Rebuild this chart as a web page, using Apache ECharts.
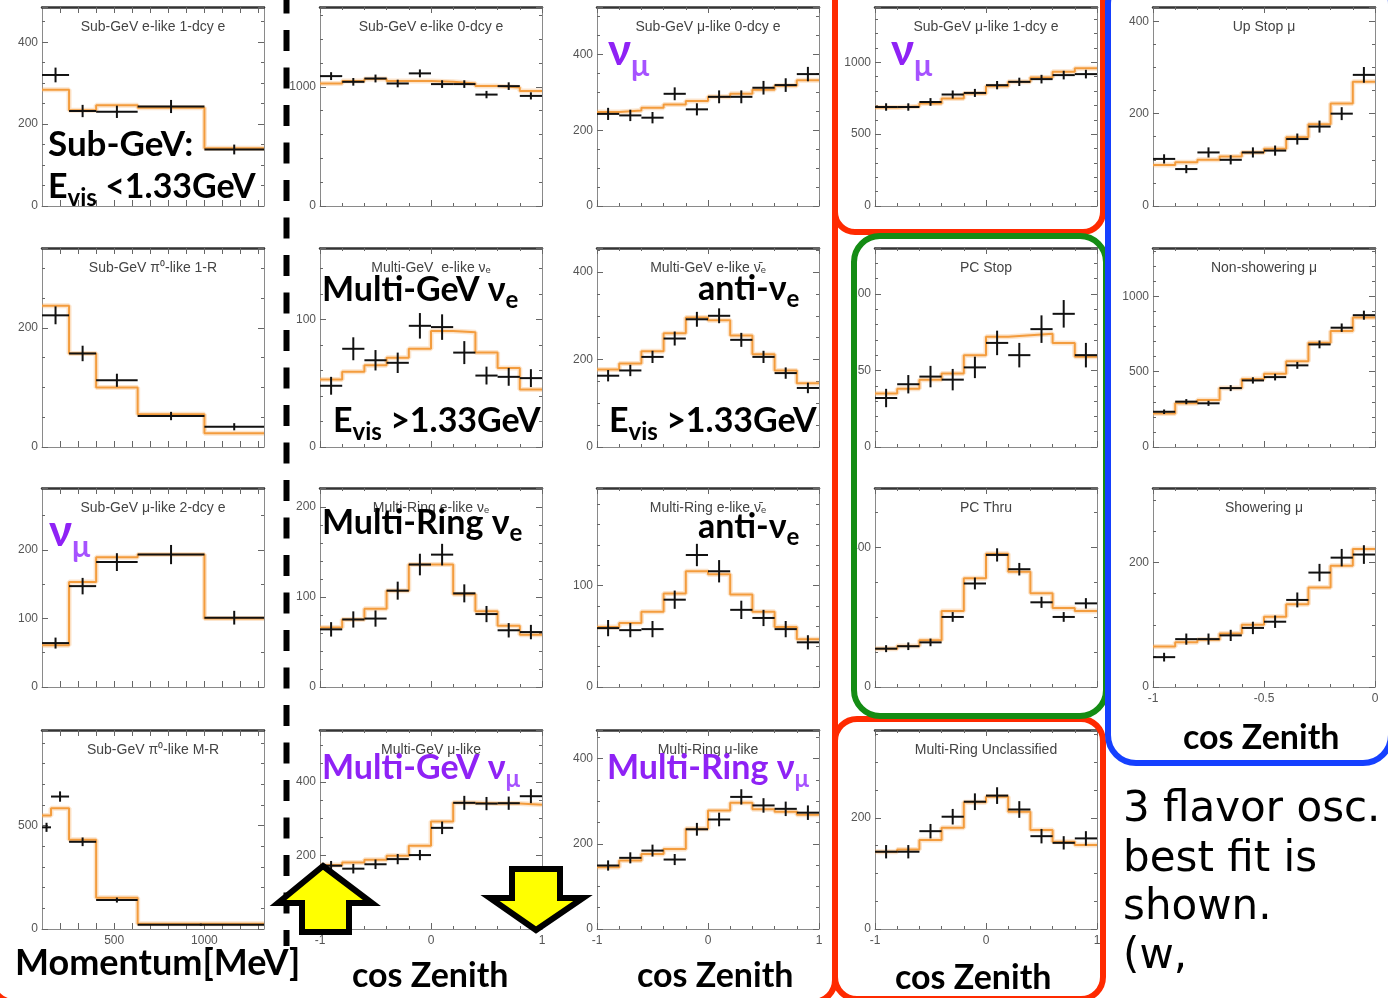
<!DOCTYPE html>
<html>
<head>
<meta charset="utf-8">
<title>Super-K atmospheric neutrino zenith distributions</title>
<script src="https://cdn.jsdelivr.net/npm/echarts@6/dist/echarts.min.js"></script>
<style>
  html, body { margin: 0; padding: 0; background: #fff; }
  #chart { width: 1388px; height: 998px; }
</style>
</head>
<body>
<div id="chart"></div>
<script>
// ---- bin edges ----
const momEdges   = [100, 250, 400, 630, 1000, 1330];
const pi0MREdges = [100, 150, 250, 400, 630, 1330];
const cosEdges   = [-1, -0.8, -0.6, -0.4, -0.2, 0, 0.2, 0.4, 0.6, 0.8, 1];
const upEdges    = [-1, -0.9, -0.8, -0.7, -0.6, -0.5, -0.4, -0.3, -0.2, -0.1, 0];
const momLabels  = [500, 1000];
const momTicks   = [200, 300, 400, 500, 600, 700, 800, 900, 1000, 1100, 1200, 1300];

// ---- event counts (data), statistical errors, best-fit expectation ----
const sgE1dcyData = [320, 232, 230, 243, 138];
const sgE1dcyErr  = [18, 15, 15, 16, 12];
const sgE1dcyFit  = [284, 234, 246, 240, 141];

const sgE0dcyData = [1090, 1042, 1070, 1028, 1113, 1023, 1023, 935, 1006, 924];
const sgE0dcyErr  = [33, 32, 33, 32, 33, 32, 32, 31, 32, 30];
const sgE0dcyFit  = [1028, 1048, 1065, 1048, 1048, 1042, 1028, 1006, 994, 966];

const sgMu0dcyData = [243, 239, 233, 296, 255, 288, 288, 312, 319, 348];
const sgMu0dcyErr  = [16, 15, 15, 17, 16, 17, 17, 18, 18, 19];
const sgMu0dcyFit  = [248, 252, 259, 268, 277, 288, 296, 307, 317, 332];

const sgMu1dcyData = [689, 689, 724, 776, 787, 841, 864, 883, 911, 918];
const sgMu1dcyErr  = [26, 26, 27, 28, 28, 29, 29, 30, 30, 30];
const sgMu1dcyFit  = [685, 694, 713, 748, 783, 834, 864, 895, 935, 958];

const upStopData = [102, 80, 116, 100, 116, 120, 145, 172, 200, 284];
const upStopErr  = [10, 9, 11, 10, 11, 11, 12, 13, 14, 17];
const upStopFit  = [89, 95, 100, 107, 116, 124, 149, 177, 222, 269];

const sgPi1RData = [221, 157, 112, 52, 34];
const sgPi1RErr  = [15, 13, 11, 7, 6];
const sgPi1RFit  = [237, 157, 100, 55, 23];

const mgENueData = [48, 77, 68, 66, 95, 94, 74, 56, 55, 54];
const mgENueErr  = [7, 9, 8, 8, 10, 10, 9, 7, 7, 7];
const mgENueFit  = [53, 59, 64, 70, 77, 91, 90, 74, 62, 45];

const mgENuebarData = [163, 175, 206, 248, 292, 300, 245, 206, 169, 135];
const mgENuebarErr  = [13, 13, 14, 16, 17, 17, 16, 14, 13, 12];
const mgENuebarFit  = [177, 191, 219, 260, 296, 290, 255, 212, 175, 146];

const pcStopData = [32, 41, 46, 44, 52, 68, 60, 77, 87, 60];
const pcStopErr  = [6, 6, 7, 7, 7, 8, 8, 9, 9, 8];
const pcStopFit  = [35, 38, 44, 48, 60, 72, 73, 74, 68, 59];

const upNonShData = [234, 301, 290, 391, 442, 464, 542, 681, 792, 875];
const upNonShErr  = [15, 17, 17, 20, 21, 22, 23, 26, 28, 30];
const upNonShFit  = [223, 290, 312, 391, 451, 487, 569, 692, 770, 859];

const sgMu2dcyData = [64, 147, 182, 193, 101];
const sgMu2dcyErr  = [8, 12, 13, 14, 10];
const sgMu2dcyFit  = [61, 153, 189, 193, 100];

const mrENueData = [64, 75, 76, 107, 136, 147, 104, 81, 63, 61];
const mrENueErr  = [8, 9, 9, 10, 12, 12, 10, 9, 8, 8];
const mrENueFit  = [66, 75, 87, 107, 136, 136, 103, 84, 68, 58];

const mrENuebarData = [58, 56, 57, 86, 130, 114, 76, 68, 57, 44];
const mrENuebarErr  = [8, 7, 8, 9, 11, 11, 9, 8, 8, 7];
const mrENuebarFit  = [59, 63, 74, 92, 114, 111, 91, 74, 59, 47];

const pcThruData = [110, 117, 128, 201, 297, 379, 338, 243, 201, 240];
const pcThruErr  = [10, 11, 11, 14, 17, 19, 18, 16, 14, 15];
const pcThruFit  = [110, 118, 134, 218, 312, 382, 331, 269, 227, 218];

const upShData = [48, 77, 77, 83, 95, 105, 140, 184, 208, 213];
const upShErr  = [7, 9, 9, 9, 10, 10, 12, 14, 14, 15];
const upShFit  = [65, 72, 76, 86, 100, 113, 133, 160, 195, 222];

const sgPiMRData = [492, 641, 422, 140, 21];
const sgPiMRErr  = [22, 25, 21, 12, 5];
const sgPiMRFit  = [549, 584, 432, 151, 26];

const mgMuData = [172, 164, 176, 190, 201, 275, 343, 341, 342, 361];
const mgMuErr  = [13, 13, 13, 14, 14, 17, 19, 18, 18, 19];
const mgMuFit  = [174, 181, 188, 199, 226, 292, 343, 341, 341, 338];

const mrMuData = [149, 167, 184, 163, 234, 257, 310, 290, 282, 273];
const mrMuErr  = [12, 13, 14, 13, 15, 16, 18, 17, 17, 17];
const mrMuFit  = [145, 161, 176, 188, 235, 278, 296, 281, 275, 268];

const mrOtherData = [139, 139, 176, 202, 229, 240, 215, 167, 155, 163];
const mrOtherErr  = [12, 12, 13, 14, 15, 15, 15, 13, 12, 13];
const mrOtherFit  = [139, 143, 160, 182, 228, 238, 211, 178, 157, 151];

// ---- panel layout ----
const COL_X = [42, 320, 597, 875, 1153];
const ROW_Y = [7, 248, 488, 730];
const PW = 222, PH = 199;

const panels = [
  { title: 'Sub-GeV e-like 1-dcy e', col: 0, row: 0, ax: 'mom', edges: momEdges, ymax: 486, ystep: 200, minor: 4, data: sgE1dcyData, err: sgE1dcyErr, fit: sgE1dcyFit },
  { title: 'Sub-GeV e-like 0-dcy e', col: 1, row: 0, ax: 'cos', edges: cosEdges, ymax: 1670, ystep: 1000, minor: 5, data: sgE0dcyData, err: sgE0dcyErr, fit: sgE0dcyFit },
  { title: 'Sub-GeV \u03bc-like 0-dcy e', col: 2, row: 0, ax: 'cos', edges: cosEdges, ymax: 525, ystep: 200, minor: 4, data: sgMu0dcyData, err: sgMu0dcyErr, fit: sgMu0dcyFit },
  { title: 'Sub-GeV \u03bc-like 1-dcy e', col: 3, row: 0, ax: 'cos', edges: cosEdges, ymax: 1385, ystep: 500, minor: 5, data: sgMu1dcyData, err: sgMu1dcyErr, fit: sgMu1dcyFit },
  { title: 'Up Stop \u03bc', col: 4, row: 0, ax: 'up', edges: upEdges, ymax: 431, ystep: 200, minor: 4, data: upStopData, err: upStopErr, fit: upStopFit },

  { title: 'Sub-GeV \u03c0\u2070-like 1-R', col: 0, row: 1, ax: 'mom', edges: momEdges, ymax: 334, ystep: 200, minor: 4, data: sgPi1RData, err: sgPi1RErr, fit: sgPi1RFit },
  { title: 'Multi-GeV  e-like \u03bd\u2091', col: 1, row: 1, ax: 'cos', edges: cosEdges, ymax: 156, ystep: 100, minor: 5, data: mgENueData, err: mgENueErr, fit: mgENueFit },
  { title: 'Multi-GeV e-like \u03bd\u0304\u2091', col: 2, row: 1, ax: 'cos', edges: cosEdges, ymax: 455, ystep: 200, minor: 4, data: mgENuebarData, err: mgENuebarErr, fit: mgENuebarFit },
  { title: 'PC Stop', col: 3, row: 1, ax: 'cos', edges: cosEdges, ymax: 130, ystep: 50, minor: 5, data: pcStopData, err: pcStopErr, fit: pcStopFit },
  { title: 'Non-showering \u03bc', col: 4, row: 1, ax: 'up', edges: upEdges, ymax: 1321, ystep: 500, minor: 5, data: upNonShData, err: upNonShErr, fit: upNonShFit },

  { title: 'Sub-GeV \u03bc-like 2-dcy e', col: 0, row: 2, ax: 'mom', edges: momEdges, ymax: 290, ystep: 100, minor: 2, data: sgMu2dcyData, err: sgMu2dcyErr, fit: sgMu2dcyFit },
  { title: 'Multi-Ring e-like \u03bd\u2091', col: 1, row: 2, ax: 'cos', edges: cosEdges, ymax: 221, ystep: 100, minor: 5, data: mrENueData, err: mrENueErr, fit: mrENueFit },
  { title: 'Multi-Ring e-like \u03bd\u0304\u2091', col: 2, row: 2, ax: 'cos', edges: cosEdges, ymax: 196, ystep: 100, minor: 5, data: mrENuebarData, err: mrENuebarErr, fit: mrENuebarFit },
  { title: 'PC Thru', col: 3, row: 2, ax: 'cos', edges: cosEdges, ymax: 571, ystep: 400, minor: 4, data: pcThruData, err: pcThruErr, fit: pcThruFit },
  { title: 'Showering \u03bc', col: 4, row: 2, ax: 'up', edges: upEdges, ymax: 320, ystep: 200, minor: 4, data: upShData, err: upShErr, fit: upShFit, xLabels: true },

  { title: 'Sub-GeV \u03c0\u2070-like M-R', col: 0, row: 3, ax: 'mom', edges: pi0MREdges, ymax: 963, ystep: 500, minor: 5, data: sgPiMRData, err: sgPiMRErr, fit: sgPiMRFit, xLabels: true },
  { title: 'Multi-GeV \u03bc-like', col: 1, row: 3, ax: 'cos', edges: cosEdges, ymax: 541, ystep: 200, minor: 4, data: mgMuData, err: mgMuErr, fit: mgMuFit, xLabels: true },
  { title: 'Multi-Ring \u03bc-like', col: 2, row: 3, ax: 'cos', edges: cosEdges, ymax: 467, ystep: 200, minor: 4, data: mrMuData, err: mrMuErr, fit: mrMuFit, xLabels: true },
  { title: 'Multi-Ring Unclassified', col: 3, row: 3, ax: 'cos', edges: cosEdges, ymax: 358, ystep: 200, minor: 4, data: mrOtherData, err: mrOtherErr, fit: mrOtherFit, xLabels: true }
];

const AXIS_GRAY = '#8a8a8a';
const TICK_GRAY = '#666';
const LABEL_FONT = '"Liberation Sans", Arial, sans-serif';
const FIT_COLOR = '#f39c3d';
const plainNumber = v => String(v);

function xAxisFor(p, gi, top) {
  const base = {
    type: 'value', gridIndex: gi, position: top ? 'top' : 'bottom',
    axisLine: { show: true, onZero: false, lineStyle: { color: top ? '#333' : AXIS_GRAY, width: top ? 2.5 : 1 } },
    axisTick: { show: true, inside: true, length: 6, lineStyle: { color: TICK_GRAY } },
    minorTick: { show: true, splitNumber: 5, length: 3, lineStyle: { color: TICK_GRAY } },
    splitLine: { show: false },
    axisLabel: { show: !top && !!p.xLabels, color: '#555', fontSize: 12, fontFamily: LABEL_FONT, margin: 6, formatter: plainNumber }
  };
  if (p.ax === 'mom') {
    base.min = 100; base.max = 1330;
    base.axisLabel.customValues = momLabels;
    base.axisTick.customValues = momTicks;
    base.minorTick.show = false;
  } else if (p.ax === 'up') {
    base.min = -1; base.max = 0; base.interval = 0.5;
  } else {
    base.min = -1; base.max = 1; base.interval = 1;
  }
  return base;
}

function yAxisFor(p, gi, right) {
  return {
    type: 'value', gridIndex: gi, position: right ? 'right' : 'left',
    min: 0, max: p.ymax, interval: p.ystep,
    axisLine: { show: true, onZero: false, lineStyle: { color: AXIS_GRAY, width: 1 } },
    axisTick: { show: true, inside: true, length: 6, lineStyle: { color: TICK_GRAY } },
    minorTick: { show: true, splitNumber: p.minor, length: 3, lineStyle: { color: TICK_GRAY } },
    splitLine: { show: false },
    axisLabel: { show: !right, showMaxLabel: false, color: '#555', fontSize: 12, fontFamily: LABEL_FONT, margin: 4, formatter: plainNumber }
  };
}

function crossItem(params, api) {
  const mid = api.value(0), v = api.value(1), lo = api.value(2), hi = api.value(3), e = api.value(4);
  const a = api.coord([lo, v]), b = api.coord([hi, v]);
  const c = api.coord([mid, v - e]), d = api.coord([mid, v + e]);
  const st = { stroke: '#111', lineWidth: 2 };
  return {
    type: 'group',
    children: [
      { type: 'line', shape: { x1: a[0], y1: a[1], x2: b[0], y2: b[1] }, style: st },
      { type: 'line', shape: { x1: c[0], y1: c[1], x2: d[0], y2: d[1] }, style: st }
    ]
  };
}

const grid = [], xAxis = [], yAxis = [], series = [], graphic = [];

panels.forEach((p, i) => {
  const left = COL_X[p.col], top = ROW_Y[p.row];
  grid.push({ left: left, top: top, width: PW, height: PH });
  xAxis.push(xAxisFor(p, i, false), xAxisFor(p, i, true));
  yAxis.push(yAxisFor(p, i, false), yAxisFor(p, i, true));

  const n = p.data.length;
  const steps = p.edges.map((e, k) => [e, p.fit[Math.min(k, n - 1)]]);
  const crosses = p.data.map((v, k) => [(p.edges[k] + p.edges[k + 1]) / 2, v, p.edges[k], p.edges[k + 1], p.err[k]]);

  series.push({
    type: 'line', xAxisIndex: 2 * i, yAxisIndex: 2 * i, data: steps, step: 'end',
    symbol: 'none', silent: true, z: 2,
    lineStyle: { color: 'rgba(246,170,90,0.3)', width: 5 }
  });
  series.push({
    type: 'line', xAxisIndex: 2 * i, yAxisIndex: 2 * i, data: steps, step: 'end',
    symbol: 'none', silent: true, z: 3,
    lineStyle: { color: FIT_COLOR, width: 2 }
  });
  series.push({
    type: 'custom', xAxisIndex: 2 * i, yAxisIndex: 2 * i, data: crosses,
    renderItem: crossItem, silent: true, z: 4,
    encode: { x: 0, y: 1 }
  });

  graphic.push({
    type: 'text', x: left + PW / 2, y: top + 20, z: 50,
    style: { text: p.title, font: '14px ' + LABEL_FONT, fill: '#444', textAlign: 'center', textVerticalAlign: 'middle' }
  });
});

// ---- overlay annotations ----
const BOLD = 'Lato, "Noto Sans", sans-serif';
const PURPLE = '#8f22f5';
const PURPLE_SUB = '#a652ff';
const measure = document.createElement('canvas').getContext('2d');

// lays out a run of text pieces on a shared baseline (subscripts via dy)
function textRun(x, baseline, parts) {
  let cx = x;
  parts.forEach(p => {
    const font = (p.w || 'bold') + ' ' + p.s + 'px ' + (p.f || BOLD);
    measure.font = font;
    const width = measure.measureText(p.t).width;
    graphic.push({
      type: 'text', x: cx, y: baseline + (p.dy || 0) - 0.36 * p.s, z: 120,
      style: { text: p.t, font: font, fill: p.c || '#000', textAlign: 'left', textVerticalAlign: 'middle' }
    });
    cx += width;
  });
}

function roundBox(x, y, w, h, r, color, lw) {
  graphic.push({
    type: 'rect', z: 110, silent: true,
    shape: { x: x, y: y, width: w, height: h, r: r },
    style: { fill: 'none', stroke: color, lineWidth: lw }
  });
}

// separator between momentum and zenith panels
graphic.push({
  type: 'line', z: 110, silent: true,
  shape: { x1: 286.5, y1: -7.5, x2: 286.5, y2: 946 },
  style: { stroke: '#000', lineWidth: 6, lineDash: [21, 16.5] }
});

// grouping frames
const RED = '#ff2a00';
roundBox(-8, -24, 843, 1026, 22, RED, 6);
roundBox(835, -24, 268, 256, 20, RED, 6);
roundBox(835, 719, 268, 280, 22, RED, 6);
roundBox(854, 236, 252, 480, 26, '#148c14', 6);
roundBox(1108, -24, 283, 787, 28, '#1540ff', 6);

// up-going / down-going arrows
graphic.push({
  type: 'polygon', z: 115, silent: true,
  shape: { points: [[323, 866], [372, 903], [349, 903], [349, 932], [302, 932], [302, 903], [278, 903]] },
  style: { fill: '#ffff00', stroke: '#000', lineWidth: 6, lineJoin: 'miter' }
});
graphic.push({
  type: 'polygon', z: 115, silent: true,
  shape: { points: [[512, 869], [560, 869], [560, 898], [583, 898], [536, 930], [490, 898], [512, 898]] },
  style: { fill: '#ffff00', stroke: '#000', lineWidth: 6, lineJoin: 'miter' }
});

// category annotations
textRun(48, 157, [{ t: 'Sub-GeV:', s: 35 }]);
textRun(48, 199, [{ t: 'E', s: 34 }, { t: 'vis', s: 24, dy: 8 }, { t: ' <1.33GeV', s: 34 }]);

textRun(608, 67, [{ t: '\u03bd', s: 44, c: PURPLE }, { t: '\u03bc', s: 30, dy: 10, c: PURPLE_SUB }]);
textRun(891, 67, [{ t: '\u03bd', s: 44, c: PURPLE }, { t: '\u03bc', s: 30, dy: 10, c: PURPLE_SUB }]);
textRun(49, 548, [{ t: '\u03bd', s: 44, c: PURPLE }, { t: '\u03bc', s: 30, dy: 10, c: PURPLE_SUB }]);

textRun(322, 302, [{ t: 'Multi-GeV \u03bd', s: 34 }, { t: 'e', s: 24, dy: 7 }]);
textRun(333, 433, [{ t: 'E', s: 34 }, { t: 'vis', s: 24, dy: 8 }, { t: ' >1.33GeV', s: 34 }]);
textRun(698, 301, [{ t: 'anti-\u03bd', s: 34 }, { t: 'e', s: 24, dy: 7 }]);
textRun(609, 433, [{ t: 'E', s: 34 }, { t: 'vis', s: 24, dy: 8 }, { t: ' >1.33GeV', s: 34 }]);

textRun(322, 535, [{ t: 'Multi-Ring \u03bd', s: 34 }, { t: 'e', s: 24, dy: 7 }]);
textRun(698, 539, [{ t: 'anti-\u03bd', s: 34 }, { t: 'e', s: 24, dy: 7 }]);

textRun(322, 780, [{ t: 'Multi-GeV \u03bd', s: 34, c: PURPLE }, { t: '\u03bc', s: 24, dy: 8, c: PURPLE_SUB }]);
textRun(607, 780, [{ t: 'Multi-Ring \u03bd', s: 34, c: PURPLE }, { t: '\u03bc', s: 24, dy: 8, c: PURPLE_SUB }]);

// axis titles
textRun(15, 976, [{ t: 'Momentum[MeV]', s: 36 }]);
textRun(352, 988, [{ t: 'cos Zenith', s: 34 }]);
textRun(637, 988, [{ t: 'cos Zenith', s: 34 }]);
textRun(895, 990, [{ t: 'cos Zenith', s: 34 }]);
textRun(1183, 750, [{ t: 'cos Zenith', s: 34 }]);

// note
const NOTE = '"DejaVu Sans", sans-serif';
textRun(1123, 825, [{ t: '3 flavor osc.', s: 42, w: 'normal', f: NOTE }]);
textRun(1123, 875, [{ t: 'best fit is', s: 42, w: 'normal', f: NOTE }]);
textRun(1123, 923, [{ t: 'shown.', s: 42, w: 'normal', f: NOTE }]);
textRun(1123, 972, [{ t: '(w,', s: 42, w: 'normal', f: NOTE }]);

const chart = echarts.init(document.getElementById('chart'), null, { renderer: 'canvas' });
chart.setOption({
  backgroundColor: '#fff',
  animation: false,
  grid: grid,
  xAxis: xAxis,
  yAxis: yAxis,
  series: series,
  graphic: graphic
});
</script>
</body>
</html>
